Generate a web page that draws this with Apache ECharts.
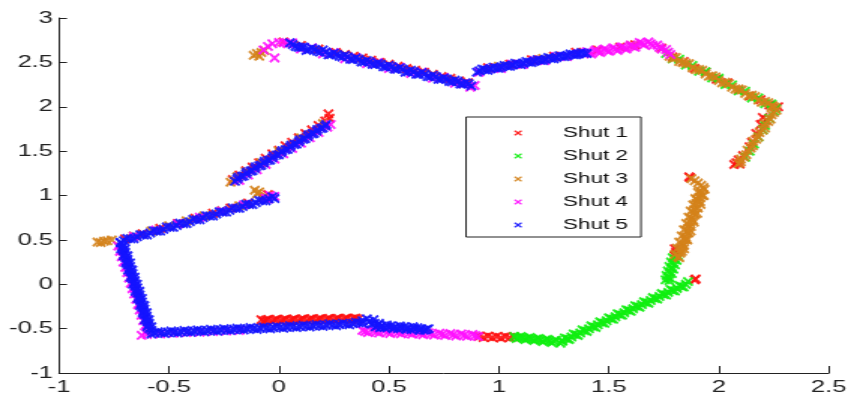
<!DOCTYPE html>
<html>
<head>
<meta charset="utf-8">
<title>Shut 1-5</title>
<script src="https://cdn.jsdelivr.net/npm/echarts@6/dist/echarts.min.js"></script>
<style>
  html, body { margin: 0; padding: 0; background: #fff; overflow: hidden; }
  /* the original figure is stretched sideways, so the chart is drawn narrow and widened */
  #chart { width: 567px; height: 396px; transform: scaleX(1.5009); transform-origin: 0 0; }
</style>
</head>
<body>
<div id="chart"></div>
<script>
var seriesNames = ['Shut 1', 'Shut 2', 'Shut 3', 'Shut 4', 'Shut 5'];
var xRange = [-1, 2.5];
var yRange = [-1, 3];

// Shut 1 (red)
var shut1 = [
  [0.02,2.73],[0.10,2.69],[0.18,2.65],[0.26,2.61],[0.30,2.59],[0.34,2.57],[0.38,2.55],[0.42,2.525],[0.46,2.50],[0.50,2.48],
  [0.54,2.455],[0.58,2.43],[0.62,2.41],[0.66,2.39],[0.70,2.365],[0.74,2.34],[0.78,2.32],[0.82,2.29],[0.86,2.27],
  [0.95,2.44],[1.05,2.48],[1.15,2.53],[1.25,2.57],[1.35,2.615],[1.45,2.64],[1.55,2.67],[1.62,2.70],
  [1.74,2.66],[1.79,2.56],[1.84,2.51],[1.89,2.43],[1.94,2.39],[1.99,2.31],[2.04,2.27],[2.09,2.19],[2.14,2.12],[2.19,2.08],[2.23,2.02],[2.27,2.00],
  [2.20,1.88],[2.215,1.85],[2.19,1.80],[2.17,1.70],[2.15,1.60],[2.14,1.55],[2.11,1.45],[2.09,1.40],[2.08,1.37],[2.095,1.355],[2.07,1.35],
  [1.87,1.20],[1.865,1.21],[1.80,0.40],[1.805,0.36],[1.80,0.32],[1.895,0.06],[1.89,0.05],
  [0.91,-0.585],[0.93,-0.60],[0.95,-0.585],[0.97,-0.60],[0.99,-0.59],[1.01,-0.605],[1.03,-0.59],[1.05,-0.60],[1.07,-0.595],
  [-0.08,-0.40],[-0.07,-0.415],[-0.05,-0.396],[-0.03,-0.414],[-0.01,-0.395],[0.01,-0.412],[0.03,-0.393],[0.05,-0.411],
  [0.07,-0.392],[0.09,-0.41],[0.11,-0.391],[0.13,-0.408],[0.15,-0.389],[0.17,-0.407],[0.19,-0.388],[0.21,-0.405],
  [0.23,-0.386],[0.25,-0.404],[0.27,-0.385],[0.29,-0.402],[0.31,-0.383],[0.33,-0.40],[0.35,-0.382],[0.36,-0.395],
  [-0.06,-0.405],[-0.02,-0.403],[0.02,-0.401],[0.06,-0.399],[0.10,-0.397],[0.14,-0.395],[0.18,-0.393],[0.22,-0.391],
  [0.26,-0.389],[0.30,-0.387],[0.34,-0.385],
  [-0.21,1.18],[-0.18,1.23],[-0.15,1.28],[-0.12,1.32],[-0.09,1.37],[-0.06,1.42],[-0.03,1.47],[0.0,1.51],[0.03,1.56],
  [0.06,1.60],[0.09,1.65],[0.12,1.70],[0.15,1.74],[0.18,1.79],[0.21,1.84],[0.225,1.92],[0.23,1.87],
  [-0.70,0.51],[-0.62,0.57],[-0.54,0.63],[-0.46,0.685],[-0.38,0.745],[-0.30,0.80],[-0.22,0.86],[-0.14,0.915],[-0.07,0.97],[-0.05,1.01]
];

// Shut 2 (green)
var shut2 = [
  [1.76,2.60],[1.79,2.54],[1.82,2.535],[1.85,2.47],[1.88,2.465],[1.91,2.40],[1.94,2.395],[1.97,2.325],[2.00,2.32],
  [2.03,2.25],[2.06,2.245],[2.09,2.18],[2.12,2.175],[2.15,2.10],[2.18,2.10],[2.21,2.035],[2.24,2.03],[2.26,1.98],
  [2.25,1.95],[2.23,1.87],[2.21,1.79],[2.20,1.74],[2.18,1.66],[2.16,1.58],[2.14,1.50],[2.12,1.43],
  [1.815,0.32],[1.79,0.30],[1.808,0.27],[1.783,0.25],[1.80,0.22],[1.775,0.20],[1.793,0.17],[1.768,0.15],
  [1.786,0.12],[1.762,0.10],[1.778,0.07],[1.758,0.05],[1.775,0.04],[1.80,0.28],[1.785,0.18],[1.77,0.08],
  [1.86,0.03],[1.84,-0.031],[1.82,-0.014],[1.80,-0.076],[1.78,-0.059],[1.76,-0.122],[1.74,-0.105],[1.72,-0.167],
  [1.70,-0.15],[1.68,-0.213],[1.66,-0.196],[1.64,-0.258],[1.62,-0.241],[1.60,-0.304],[1.58,-0.287],[1.56,-0.349],
  [1.54,-0.332],[1.52,-0.395],[1.50,-0.378],[1.48,-0.44],[1.46,-0.423],[1.44,-0.486],[1.42,-0.469],[1.40,-0.531],
  [1.38,-0.514],[1.36,-0.577],[1.34,-0.56],[1.32,-0.622],[1.30,-0.605],[1.28,-0.665],[1.285,-0.64],
  [1.85,-0.001],[1.83,-0.024],[1.81,-0.047],[1.79,-0.070],[1.77,-0.092],[1.75,-0.115],[1.73,-0.138],[1.71,-0.161],
  [1.69,-0.183],[1.67,-0.206],[1.65,-0.229],[1.63,-0.252],[1.61,-0.275],[1.59,-0.297],[1.57,-0.320],[1.55,-0.343],
  [1.53,-0.366],[1.51,-0.388],[1.49,-0.411],[1.47,-0.434],[1.45,-0.457],[1.43,-0.479],[1.41,-0.502],[1.39,-0.525],
  [1.37,-0.548],[1.35,-0.570],[1.33,-0.593],[1.31,-0.616],[1.29,-0.639],
  [1.26,-0.63],[1.24,-0.655],[1.22,-0.62],[1.20,-0.645],[1.18,-0.61],[1.16,-0.633],[1.14,-0.60],[1.12,-0.622],
  [1.10,-0.59],[1.08,-0.61],[1.07,-0.59],
  [1.25,-0.642],[1.23,-0.637],[1.21,-0.631],[1.19,-0.626],[1.17,-0.621],[1.15,-0.615],[1.13,-0.61],[1.11,-0.604],[1.09,-0.599]
];

// Shut 3 (olive)
var shut3 = [
  [-0.115,2.58],[-0.10,2.60],[-0.09,2.57],[-0.08,2.61],[-0.065,2.635],
  [1.0,2.455],[1.2,2.545],[1.6,2.69],
  [1.775,2.57],[1.805,2.555],[1.835,2.50],[1.865,2.485],[1.895,2.42],[1.925,2.41],[1.955,2.345],[1.985,2.335],
  [2.015,2.27],[2.045,2.26],[2.075,2.20],[2.105,2.19],[2.135,2.125],[2.165,2.115],[2.195,2.05],[2.225,2.045],[2.255,1.995],[2.245,2.01],
  [1.79,2.545],[1.82,2.51],[1.85,2.49],[1.88,2.44],[1.91,2.42],[1.94,2.37],[1.97,2.35],[2.00,2.295],
  [2.03,2.275],[2.06,2.22],[2.09,2.20],[2.12,2.15],[2.15,2.13],[2.18,2.075],[2.21,2.06],[2.24,2.00],
  [2.262,1.96],[2.24,1.91],[2.235,1.86],[2.21,1.81],[2.21,1.76],[2.185,1.71],[2.18,1.66],[2.155,1.61],[2.155,1.56],
  [2.13,1.51],[2.125,1.46],[2.10,1.41],[2.10,1.38],
  [2.25,1.935],[2.225,1.835],[2.20,1.735],[2.17,1.635],[2.145,1.535],[2.115,1.435],[2.09,1.36],
  [1.875,1.19],[1.89,1.165],[1.905,1.14],[1.92,1.115],[1.93,1.09],
  [1.935,1.07],[1.905,1.035],[1.925,1.00],[1.893,0.965],[1.915,0.93],[1.883,0.895],[1.905,0.86],[1.872,0.825],
  [1.894,0.79],[1.862,0.755],[1.884,0.72],[1.852,0.685],[1.873,0.65],[1.841,0.615],[1.863,0.58],[1.831,0.545],
  [1.853,0.51],[1.82,0.475],[1.842,0.44],[1.81,0.405],[1.832,0.37],[1.80,0.335],[1.82,0.30],
  [1.914,1.05],[1.90,0.95],[1.888,0.84],[1.877,0.74],[1.862,0.63],[1.85,0.53],[1.836,0.43],[1.825,0.35],
  [1.92,1.02],[1.91,0.98],[1.897,0.91],[1.885,0.80],[1.87,0.70],[1.857,0.60],[1.845,0.50],[1.83,0.40],[1.815,0.31],
  [1.932,1.00],[1.917,0.90],[1.902,0.80],[1.887,0.70],[1.872,0.60],[1.857,0.50],[1.842,0.40],
  [-0.825,0.475],[-0.81,0.47],[-0.795,0.485],[-0.78,0.49],[-0.76,0.50],[-0.66,0.545],[-0.58,0.60],[-0.50,0.66],
  [-0.42,0.715],[-0.34,0.77],[-0.26,0.83],[-0.18,0.885],[-0.11,1.06],[-0.09,1.04],[-0.10,1.02],[-0.06,0.99],
  [-0.22,1.15],[-0.205,1.17],[-0.19,1.21],[-0.15,1.265],[-0.08,1.37],[0.0,1.50],[0.10,1.65],[0.20,1.81]
];

// Shut 4 (magenta)
var shut4 = [
  [-0.07,2.64],[-0.05,2.68],[-0.03,2.71],[0.0,2.725],[0.02,2.72],[0.04,2.71],[-0.02,2.55],
  [0.06,2.72],[0.10,2.65],[0.15,2.665],[0.20,2.595],[0.25,2.61],[0.30,2.54],[0.35,2.555],[0.40,2.485],[0.45,2.50],
  [0.50,2.43],[0.55,2.445],[0.60,2.375],[0.65,2.39],[0.70,2.32],[0.75,2.33],[0.80,2.265],[0.84,2.26],[0.87,2.22],[0.89,2.24],
  [0.91,2.39],[0.96,2.43],[1.01,2.43],[1.06,2.48],[1.11,2.475],[1.16,2.52],[1.21,2.52],[1.26,2.565],[1.31,2.565],[1.36,2.60],
  [1.40,2.62],[1.42,2.595],[1.44,2.64],[1.46,2.61],[1.48,2.65],[1.50,2.625],[1.52,2.665],[1.54,2.635],[1.56,2.675],
  [1.58,2.65],[1.60,2.695],[1.62,2.67],[1.64,2.725],[1.66,2.70],[1.68,2.73],[1.70,2.69],[1.72,2.695],[1.74,2.65],[1.76,2.645],[1.78,2.59],
  [1.41,2.61],[1.45,2.623],[1.49,2.637],[1.53,2.65],[1.57,2.663],[1.61,2.68],[1.65,2.712],[1.69,2.71],[1.73,2.67],[1.77,2.615],
  [-0.624,-0.575],[-0.601,-0.53],[-0.609,-0.47],[-0.617,-0.41],[-0.625,-0.35],[-0.633,-0.29],[-0.641,-0.23],[-0.649,-0.17],
  [-0.658,-0.11],[-0.666,-0.05],[-0.674,0.01],[-0.682,0.07],[-0.690,0.13],[-0.698,0.19],[-0.707,0.25],[-0.715,0.31],[-0.723,0.37],[-0.731,0.43],
  [-0.60,-0.565],[-0.54,-0.56],[-0.48,-0.552],[-0.42,-0.545],[-0.36,-0.54],[-0.30,-0.533],[-0.24,-0.527],[-0.18,-0.52],
  [0.38,-0.52],[0.405,-0.545],[0.43,-0.525],[0.455,-0.55],[0.48,-0.527],[0.505,-0.555],[0.53,-0.532],[0.555,-0.558],
  [0.58,-0.537],[0.605,-0.563],[0.63,-0.542],[0.655,-0.568],[0.68,-0.546],[0.705,-0.573],[0.73,-0.551],[0.755,-0.577],
  [0.78,-0.556],[0.805,-0.582],[0.83,-0.56],[0.855,-0.587],[0.88,-0.565],[0.905,-0.59],
  [0.3925,-0.531],[0.4425,-0.536],[0.4925,-0.541],[0.5425,-0.545],[0.5925,-0.55],[0.6425,-0.555],[0.6925,-0.559],
  [0.7425,-0.564],[0.7925,-0.569],[0.8425,-0.574],[0.8925,-0.578],
  [-0.18,1.17],[-0.14,1.23],[-0.10,1.29],[-0.06,1.35],[-0.02,1.41],[0.02,1.47],[0.06,1.53],[0.10,1.59],[0.14,1.65],
  [0.18,1.71],[0.22,1.77],[0.235,1.80],
  [-0.66,0.54],[-0.56,0.61],[-0.46,0.68],[-0.36,0.755],[-0.26,0.825],[-0.16,0.895],[-0.06,0.97],[-0.05,0.96],[-0.02,0.99],[-0.04,1.0]
];

// Shut 5 (blue)
var shut5 = [
  [0.05,2.72],[0.075,2.68],[0.10,2.67],[0.125,2.635],[0.15,2.66],[0.175,2.625],[0.20,2.64],[0.225,2.585],[0.25,2.605],
  [0.275,2.57],[0.30,2.58],[0.325,2.535],[0.35,2.55],[0.375,2.505],[0.40,2.52],[0.425,2.48],[0.45,2.49],[0.475,2.45],
  [0.50,2.465],[0.525,2.425],[0.55,2.44],[0.575,2.39],[0.60,2.41],[0.625,2.365],[0.65,2.385],[0.675,2.34],[0.70,2.355],
  [0.725,2.31],[0.75,2.325],[0.775,2.285],[0.80,2.30],[0.825,2.255],[0.85,2.27],[0.875,2.235],
  [0.0625,2.701],[0.0875,2.671],[0.1125,2.673],[0.1375,2.644],[0.1625,2.646],[0.1875,2.616],[0.2125,2.618],[0.2375,2.588],
  [0.2625,2.590],[0.2875,2.561],[0.3125,2.563],[0.3375,2.533],[0.3625,2.535],[0.3875,2.505],[0.4125,2.507],[0.4375,2.477],
  [0.4625,2.480],[0.4875,2.450],[0.5125,2.452],[0.5375,2.422],[0.5625,2.424],[0.5875,2.394],[0.6125,2.396],[0.6375,2.367],
  [0.6625,2.369],[0.6875,2.339],[0.7125,2.341],[0.7375,2.311],[0.7625,2.313],[0.7875,2.283],[0.8125,2.286],[0.8375,2.256],[0.8625,2.258],
  [0.90,2.39],[0.925,2.425],[0.95,2.41],[0.975,2.445],[1.00,2.435],[1.025,2.465],[1.05,2.455],[1.075,2.49],[1.10,2.475],
  [1.125,2.51],[1.15,2.50],[1.175,2.53],[1.20,2.52],[1.225,2.555],[1.25,2.54],[1.275,2.575],[1.30,2.565],[1.325,2.595],
  [1.35,2.585],[1.375,2.61],[1.40,2.60],
  [0.9125,2.405],[0.9375,2.416],[0.9625,2.427],[0.9875,2.438],[1.0125,2.448],[1.0375,2.459],[1.0625,2.470],[1.0875,2.481],
  [1.1125,2.491],[1.1375,2.502],[1.1625,2.513],[1.1875,2.524],[1.2125,2.534],[1.2375,2.545],[1.2625,2.556],[1.2875,2.567],
  [1.3125,2.577],[1.3375,2.588],[1.3625,2.595],[1.3875,2.602],
  [-0.579,-0.52],[-0.599,-0.48],[-0.590,-0.44],[-0.610,-0.40],[-0.601,-0.36],[-0.620,-0.32],[-0.612,-0.28],[-0.631,-0.24],
  [-0.623,-0.20],[-0.642,-0.16],[-0.633,-0.12],[-0.653,-0.08],[-0.644,-0.04],[-0.664,0.00],[-0.655,0.04],[-0.675,0.08],
  [-0.666,0.12],[-0.686,0.16],[-0.677,0.20],[-0.696,0.24],[-0.688,0.28],[-0.707,0.32],[-0.699,0.36],[-0.718,0.40],[-0.709,0.44],[-0.72,0.47],
  [-0.589,-0.50],[-0.594,-0.46],[-0.600,-0.42],[-0.605,-0.38],[-0.611,-0.34],[-0.616,-0.30],[-0.622,-0.26],[-0.627,-0.22],
  [-0.632,-0.18],[-0.638,-0.14],[-0.643,-0.10],[-0.649,-0.06],[-0.654,-0.02],[-0.659,0.02],[-0.665,0.06],[-0.670,0.10],
  [-0.676,0.14],[-0.681,0.18],[-0.687,0.22],[-0.692,0.26],[-0.697,0.30],[-0.703,0.34],[-0.708,0.38],[-0.714,0.42],
  [-0.580,-0.48],[-0.591,-0.40],[-0.601,-0.32],[-0.612,-0.24],[-0.623,-0.16],[-0.634,-0.08],[-0.645,0.00],[-0.656,0.08],
  [-0.667,0.16],[-0.677,0.24],[-0.688,0.32],[-0.699,0.40],
  [-0.72,0.47],[-0.69,0.516],[-0.66,0.513],[-0.63,0.559],[-0.60,0.556],[-0.57,0.602],[-0.54,0.599],[-0.51,0.645],[-0.48,0.641],
  [-0.45,0.688],[-0.42,0.684],[-0.39,0.731],[-0.36,0.727],[-0.33,0.773],[-0.30,0.77],[-0.27,0.816],[-0.24,0.813],[-0.21,0.859],
  [-0.18,0.856],[-0.15,0.902],[-0.12,0.898],[-0.09,0.945],[-0.06,0.941],[-0.03,0.985],[-0.02,0.965],
  [-0.705,0.491],[-0.675,0.512],[-0.645,0.534],[-0.615,0.555],[-0.585,0.577],[-0.555,0.598],[-0.525,0.619],[-0.495,0.641],
  [-0.465,0.662],[-0.435,0.683],[-0.405,0.705],[-0.375,0.726],[-0.345,0.748],[-0.315,0.769],[-0.285,0.791],[-0.255,0.812],
  [-0.225,0.833],[-0.195,0.855],[-0.165,0.876],[-0.135,0.898],[-0.105,0.919],[-0.075,0.941],[-0.045,0.962],
  [-0.20,1.16],[-0.185,1.205],[-0.16,1.22],[-0.145,1.265],[-0.12,1.28],[-0.105,1.325],[-0.08,1.34],[-0.065,1.385],[-0.04,1.40],
  [-0.025,1.445],[0.00,1.46],[0.015,1.505],[0.04,1.52],[0.055,1.565],[0.08,1.58],[0.095,1.625],[0.12,1.64],[0.135,1.685],
  [0.16,1.70],[0.175,1.745],[0.20,1.76],[0.215,1.80],
  [-0.19,1.185],[-0.17,1.215],[-0.15,1.245],[-0.13,1.275],[-0.11,1.305],[-0.09,1.335],[-0.07,1.365],[-0.05,1.395],
  [-0.03,1.425],[-0.01,1.455],[0.01,1.485],[0.03,1.515],[0.05,1.545],[0.07,1.575],[0.09,1.605],[0.11,1.635],
  [0.13,1.665],[0.15,1.695],[0.17,1.725],[0.19,1.755],[0.21,1.785],
  [-0.58,-0.56],[-0.55,-0.535],[-0.52,-0.555],[-0.49,-0.528],[-0.46,-0.549],[-0.43,-0.521],[-0.40,-0.542],[-0.37,-0.515],
  [-0.34,-0.535],[-0.31,-0.508],[-0.28,-0.529],[-0.25,-0.501],[-0.22,-0.522],[-0.19,-0.495],[-0.16,-0.515],[-0.13,-0.488],
  [-0.10,-0.509],[-0.07,-0.481],[-0.04,-0.502],[-0.01,-0.475],[0.02,-0.495],[0.05,-0.468],[0.08,-0.488],[0.11,-0.461],
  [0.14,-0.481],[0.17,-0.454],[0.20,-0.474],[0.23,-0.446],[0.26,-0.467],[0.29,-0.439],[0.32,-0.457],[0.35,-0.428],[0.38,-0.44],[0.38,-0.41],
  [-0.565,-0.548],[-0.535,-0.545],[-0.505,-0.542],[-0.475,-0.538],[-0.445,-0.535],[-0.415,-0.532],[-0.385,-0.528],[-0.355,-0.525],
  [-0.325,-0.522],[-0.295,-0.518],[-0.265,-0.515],[-0.235,-0.512],[-0.205,-0.508],[-0.175,-0.505],[-0.145,-0.502],[-0.115,-0.498],
  [-0.085,-0.495],[-0.055,-0.492],[-0.025,-0.488],[0.005,-0.485],[0.035,-0.482],[0.065,-0.478],[0.095,-0.475],[0.125,-0.471],
  [0.155,-0.468],[0.185,-0.464],[0.215,-0.46],[0.245,-0.457],[0.275,-0.453],[0.305,-0.448],[0.335,-0.442],[0.365,-0.435],
  [0.40,-0.39],[0.41,-0.42],[0.42,-0.45],[0.43,-0.40],[0.44,-0.48],[0.435,-0.44],
  [0.45,-0.46],[0.48,-0.488],[0.51,-0.468],[0.54,-0.499],[0.57,-0.479],[0.60,-0.509],[0.63,-0.49],[0.66,-0.517],[0.68,-0.50],
  [0.455,-0.44],[0.465,-0.474],[0.495,-0.478],[0.525,-0.484],[0.555,-0.489],[0.585,-0.494],[0.615,-0.499],[0.645,-0.504],
  [0.67,-0.51],[0.46,-0.49],[0.52,-0.50],[0.58,-0.51],[0.64,-0.52],[0.49,-0.46],[0.55,-0.47],[0.61,-0.48]
];

var shutData = [shut1, shut2, shut3, shut4, shut5];
var shutColors = ['#ff1010', '#10ee10', '#d4821a', '#ff10ff', '#1414ff'];
var xMark = 'path://M0,1.6L1.6,0L5,3.4L8.4,0L10,1.6L6.6,5L10,8.4L8.4,10L5,6.6L1.6,10L0,8.4L3.4,5Z';
var font = 'Liberation Sans, Arial, sans-serif';

var chart = echarts.init(document.getElementById('chart'));

var series = [];
shutData.forEach(function (pts, i) {
  series.push({
    name: seriesNames[i],
    type: 'scatter',
    data: pts,
    symbol: xMark,
    symbolSize: [7.2, 10],
    itemStyle: { color: shutColors[i], opacity: 0.9 },
    emphasis: { disabled: true }
  });
});

var option = {
  animation: false,
  backgroundColor: '#fff',
  grid: { left: 39.3, right: 13.3, top: 18, bottom: 23 },
  xAxis: {
    type: 'value',
    min: xRange[0], max: xRange[1], interval: 0.5,
    axisLine: { onZero: false, lineStyle: { color: '#222', width: 1 } },
    axisTick: { inside: true, length: 7, lineStyle: { color: '#222' } },
    axisLabel: { margin: 6, fontFamily: font, fontSize: 17, color: '#222' },
    splitLine: { show: false }
  },
  yAxis: {
    type: 'value',
    min: yRange[0], max: yRange[1], interval: 0.5,
    axisLine: { show: true, onZero: false, lineStyle: { color: '#222', width: 1 } },
    axisTick: { show: true, inside: true, length: 5.3, lineStyle: { color: '#222' } },
    axisLabel: { margin: 4, fontFamily: font, fontSize: 17, color: '#222' },
    splitLine: { show: false }
  },
  legend: {
    orient: 'vertical',
    left: 310.5, top: 117,
    padding: [8, 8.6, 4, 31.9],
    itemWidth: 5.5, itemHeight: 8, itemGap: 7,
    borderColor: '#222', borderWidth: 1,
    backgroundColor: '#fff',
    icon: xMark,
    textStyle: { fontFamily: font, fontSize: 15, color: '#111', lineHeight: 16, padding: [0, 0, 0, 22.2] },
    data: seriesNames
  },
  series: series
};

chart.setOption(option);
</script>
</body>
</html>
